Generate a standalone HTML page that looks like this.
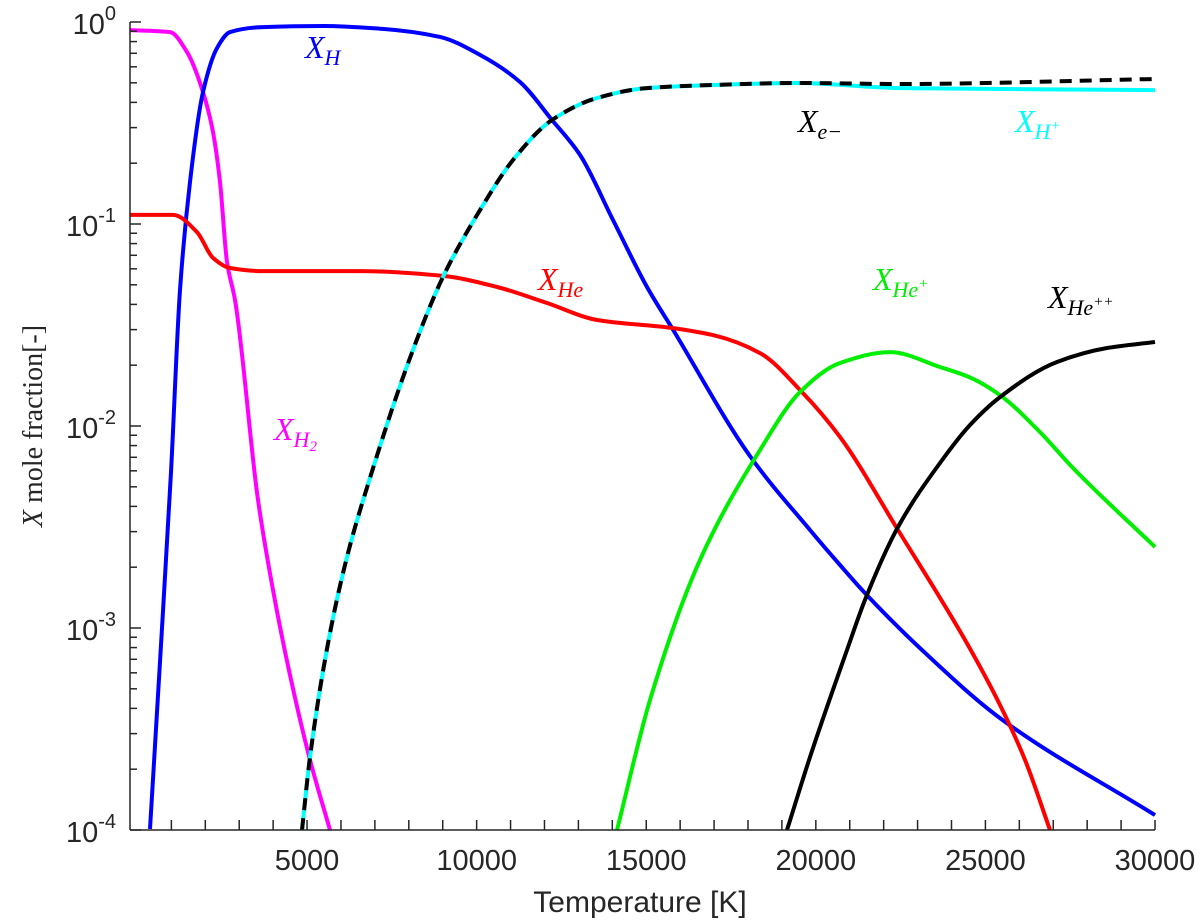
<!DOCTYPE html>
<html><head><meta charset="utf-8"><style>
html,body{margin:0;padding:0;background:#fff;}
svg{display:block;}
.tk{font-family:"Liberation Sans",sans-serif;font-size:29px;fill:#262626;}
.lbl{font-family:"Liberation Serif",serif;font-style:italic;font-size:32px;}
.sub{font-size:22px;}
</style></head><body>
<svg id="chart" width="1200" height="924">
<g id="marks"></g>
<g id="axes"></g>
<g>
<text class="lbl" x="305" y="58" fill="#0000ff">X<tspan class="sub" dy="7">H</tspan></text>
<text class="lbl" x="274" y="440" fill="#ff00ff">X<tspan class="sub" dy="7">H</tspan><tspan style="font-size:15px" dy="4">2</tspan></text>
<text class="lbl" x="538" y="290" fill="#ff0000">X<tspan class="sub" dy="7">He</tspan></text>
<text class="lbl" x="798" y="132" fill="#000">X<tspan class="sub" dy="7">e−</tspan></text>
<text class="lbl" x="1015" y="132" fill="#00ffff">X<tspan class="sub" dy="7">H</tspan><tspan style="font-size:15px" dy="-9">+</tspan></text>
<text class="lbl" x="873" y="290" fill="#00ee00">X<tspan class="sub" dy="7">He</tspan><tspan style="font-size:15px" dy="-9">+</tspan></text>
<text class="lbl" x="1048" y="308" fill="#000">X<tspan class="sub" dy="7">He</tspan><tspan style="font-size:15px" dy="-9">++</tspan></text>
</g>
<text x="640" y="912" text-anchor="middle" style="font-family:'Liberation Sans',sans-serif;font-size:30px;fill:#262626">Temperature [K]</text>
<text transform="translate(42,426) rotate(-90)" text-anchor="middle" style="font-family:'Liberation Serif',serif;font-size:28px;fill:#262626"><tspan font-style="italic">X</tspan> mole fraction[-]</text>
</svg>
<script>
const xTicks=[5000,10000,15000,20000,25000,30000];
const yTickExps=[0,-1,-2,-3,-4];
const tH2=[-220,959,1461,1933,2227,2433,2640,2876,3554,3996,4497,5087,5677];
const logH2=[-0.04,-0.05,-0.149,-0.347,-0.545,-0.792,-1.188,-1.376,-2.366,-2.812,-3.233,-3.653,-4.0];
const tH=[370,694,989,1254,1549,1932,2345,2728,3701,5500,7151,8920,10099,11278,12222,13047,14020,15023,15760,18059,19828,20712,21450,23130,25430,30000];
const logH=[-3.995,-3.084,-2.228,-1.327,-0.792,-0.347,-0.129,-0.05,-0.025,-0.02,-0.033,-0.074,-0.163,-0.297,-0.485,-0.658,-0.98,-1.312,-1.515,-2.149,-2.515,-2.688,-2.827,-3.109,-3.446,-3.926];
const tHp=[4851,5087,5677,6207,6856,8035,9008,10099,11072,12222,13548,15023,16969,19445,22482,30000];
const logHp=[-4.0,-3.639,-3.025,-2.629,-2.257,-1.663,-1.262,-0.931,-0.683,-0.485,-0.376,-0.327,-0.312,-0.302,-0.327,-0.337];
const logE=[-4.0,-3.639,-3.025,-2.629,-2.257,-1.663,-1.262,-0.931,-0.683,-0.485,-0.376,-0.327,-0.312,-0.302,-0.307,-0.282];
const tHe=[-220,1048,1755,2227,2728,3701,6561,9008,10600,12074,13548,15760,16969,18354,19593,20712,22423,24398,25430,26167,26904];
const logHe=[-0.955,-0.955,-1.04,-1.168,-1.218,-1.233,-1.233,-1.257,-1.312,-1.391,-1.475,-1.515,-1.55,-1.639,-1.832,-2.054,-2.515,-3.059,-3.381,-3.653,-4.0];
const tHep=[14138,15111,16585,18354,19533,20712,22187,23661,24575,25430,26610,27582,30000];
const logHep=[-4.0,-3.356,-2.663,-2.119,-1.832,-1.688,-1.634,-1.708,-1.762,-1.847,-2.030,-2.208,-2.599];
const tHepp=[19150,19828,20919,21450,22423,23661,24546,25430,27110,28584,30000];
const logHepp=[-4.0,-3.639,-3.109,-2.861,-2.5,-2.183,-1.995,-1.857,-1.683,-1.614,-1.584];

const X0=130,X1=1155,Y0=22,Y1=830,TMIN=-220,TMAX=30000;
function xs(t){return X0+(t-TMIN)/(TMAX-TMIN)*(X1-X0);}
function ys(l){return Y0+(-l)/4*(Y1-Y0);}
const NS='http://www.w3.org/2000/svg';
function mk(tag,attrs,parent){const e=document.createElementNS(NS,tag);for(const k in attrs)e.setAttribute(k,attrs[k]);parent.appendChild(e);return e;}
function pathD(ts,ls){
  const x=ts.map(xs),y=ls.map(ys),n=x.length;
  const h=[],d=[];for(let i=0;i<n-1;i++){h.push(x[i+1]-x[i]);d.push((y[i+1]-y[i])/h[i]);}
  const m=new Array(n);m[0]=d[0];m[n-1]=d[n-2];
  for(let i=1;i<n-1;i++){
    if(d[i-1]*d[i]<=0)m[i]=0;
    else{const w1=2*h[i]+h[i-1],w2=h[i]+2*h[i-1];m[i]=(w1+w2)/(w1/d[i-1]+w2/d[i]);}
  }
  let s='M'+x[0].toFixed(1)+','+y[0].toFixed(1);
  for(let i=0;i<n-1;i++){
    const c1x=x[i]+h[i]/3,c1y=y[i]+m[i]*h[i]/3,c2x=x[i+1]-h[i]/3,c2y=y[i+1]-m[i+1]*h[i]/3;
    s+=' C'+c1x.toFixed(1)+','+c1y.toFixed(1)+' '+c2x.toFixed(1)+','+c2y.toFixed(1)+' '+x[i+1].toFixed(1)+','+y[i+1].toFixed(1);
  }
  return s;
}
const marks=document.getElementById('marks');
const cp=mk('clipPath',{id:'clip'},marks);mk('rect',{x:X0,y:0,width:X1-X0+2,height:Y1},cp);
const g=mk('g',{'clip-path':'url(#clip)'},marks);
function series(ts,ls,col,name,dash){
  const e=mk('path',{d:pathD(ts,ls),fill:'none',stroke:col,'stroke-width':4,'stroke-linejoin':'round'},g);
  if(dash)e.setAttribute('stroke-dasharray',dash);
  
  
}
series(tH2,logH2,'#ff00ff','line-xh2');
series(tH,logH,'#0000ff','line-xh');
series(tHe,logHe,'#ff0000','line-xhe');
series(tHp,logHp,'#00ffff','line-xhplus');
series(tHp,logE,'#000000','line-xe','12,8');
series(tHep,logHep,'#00ee00','line-xheplus');
series(tHepp,logHepp,'#000000','line-xheplusplus');

const ax=document.getElementById('axes');
const st={stroke:'#262626','stroke-width':1.5};
const xa=mk('line',Object.assign({x1:X0,y1:Y1,x2:X1,y2:Y1},st),ax);


const ya=mk('line',Object.assign({x1:X0,y1:Y0,x2:X0,y2:Y1},st),ax);


for(let t=1000;t<=30000;t+=1000){mk('line',Object.assign({x1:xs(t),y1:Y1,x2:xs(t),y2:Y1-10},st),ax);}
xTicks.forEach(t=>{
  const e=mk('text',{x:xs(t),y:Y1+40,'text-anchor':'middle',class:'tk'},ax);e.textContent=t;
  
  
});
yTickExps.forEach(ex=>{
  const y=ys(ex);
  mk('line',Object.assign({x1:X0,y1:y,x2:X0+11,y2:y},st),ax);
  if(ex>-4)for(let m=2;m<10;m++){const yy=ys(ex-1+Math.log10(m));mk('line',Object.assign({x1:X0,y1:yy,x2:X0+7,y2:yy},st),ax);}
  const e=mk('text',{x:X0-14,y:y+12,'text-anchor':'end',class:'tk'},ax);
  
  
  e.textContent='10';const s=mk('tspan',{dy:-14,style:'font-size:20px'},e);s.textContent=String(ex);
});
</script>
</body></html>
